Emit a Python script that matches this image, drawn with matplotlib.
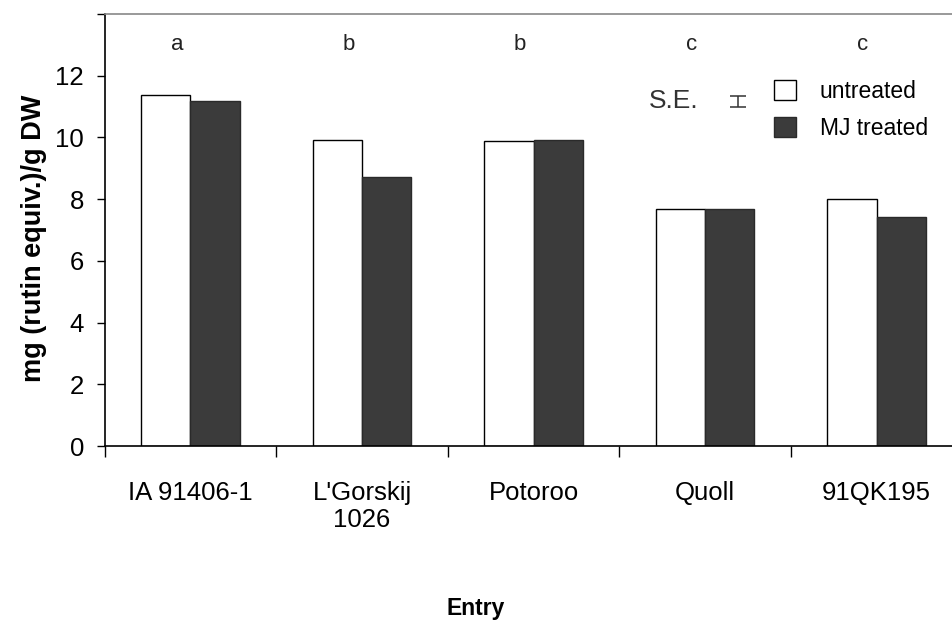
import numpy as np
import matplotlib
matplotlib.use('Agg')
from matplotlib import pyplot as plt

plt.rcParams['font.family'] = ['Liberation Sans', 'DejaVu Sans']

# Data
entries = ['IA 91406-1', "L'Gorskij\n1026", 'Potoroo', 'Quoll', '91QK195']
untreated = [11.37, 9.93, 9.88, 7.67, 7.99]
mj_treated = [11.17, 8.73, 9.93, 7.67, 7.43]
groups = ['a', 'b', 'b', 'c', 'c']
se = 0.18

fig = plt.figure(figsize=(9.52, 6.25), dpi=100)
# axes runs off the right edge, as in the scanned original
ax = fig.add_axes([0.110, 0.2864, 0.901, 0.6912])

x = np.arange(len(entries))
w = 0.287
ax.bar(x - w / 2, untreated, w, color='white', edgecolor='black', linewidth=1.0,
       label='untreated')
ax.bar(x + w / 2, mj_treated, w, color='#3b3b3b', edgecolor='#2a2a2a', linewidth=1.0,
       label='MJ treated')

# significance letters
for i, g in enumerate(groups):
    ax.text(x[i] - 0.08, 13.0, g, ha='center', va='center', fontsize=16, color='#222222')

ax.set_xlim(-0.5, len(entries) - 0.5)
ax.set_ylim(0, 14)

# ticks between categories, labels under categories
ax.set_xticks(np.arange(len(entries) + 1) - 0.5)
ax.set_xticklabels([])
ax.set_xticks(x, minor=True)
ax.set_xticklabels(entries, minor=True, fontsize=18.5, linespacing=1.15)
ax.tick_params(axis='x', which='major', direction='out', length=8, width=1.0)
ax.tick_params(axis='x', which='minor', length=0, pad=25)

ax.set_yticks(np.arange(0, 15, 2))
ax.set_yticklabels([str(v) if v < 14 else '' for v in range(0, 15, 2)], fontsize=18.5)
ax.tick_params(axis='y', direction='out', length=6, width=1.0, pad=9)

for s in ['left', 'bottom']:
    ax.spines[s].set_linewidth(1.2)
ax.spines['top'].set_color('#888888')
ax.spines['top'].set_linewidth(1.2)
ax.spines['right'].set_visible(False)

fig.text(34 / 952, 1 - 238 / 625, 'mg (rutin equiv.)/g DW', rotation=90,
         ha='center', va='center', fontsize=19.5, fontweight='bold')
fig.text(476 / 952, 1 - 609 / 625, 'Entry', ha='center', va='center',
         fontsize=16.5, fontweight='bold')

# S.E. indicator
fig.text(674 / 952, 1 - 101 / 625, 'S.E.', ha='center', va='center', fontsize=19,
         color='#333333')
ax.errorbar([3.19], [11.15], yerr=[se], fmt='none', ecolor='#333333',
            elinewidth=1.1, capsize=6, capthick=1.1)

ax.legend(loc='upper left', bbox_to_anchor=(774 / 952, 1 - 80 / 625),
          bbox_transform=fig.transFigure, frameon=False, fontsize=16.5,
          handlelength=0.95, handleheight=0.95, handletextpad=1.05,
          labelspacing=0.62, borderaxespad=0, borderpad=0)

fig.savefig('out.png', dpi=100)
